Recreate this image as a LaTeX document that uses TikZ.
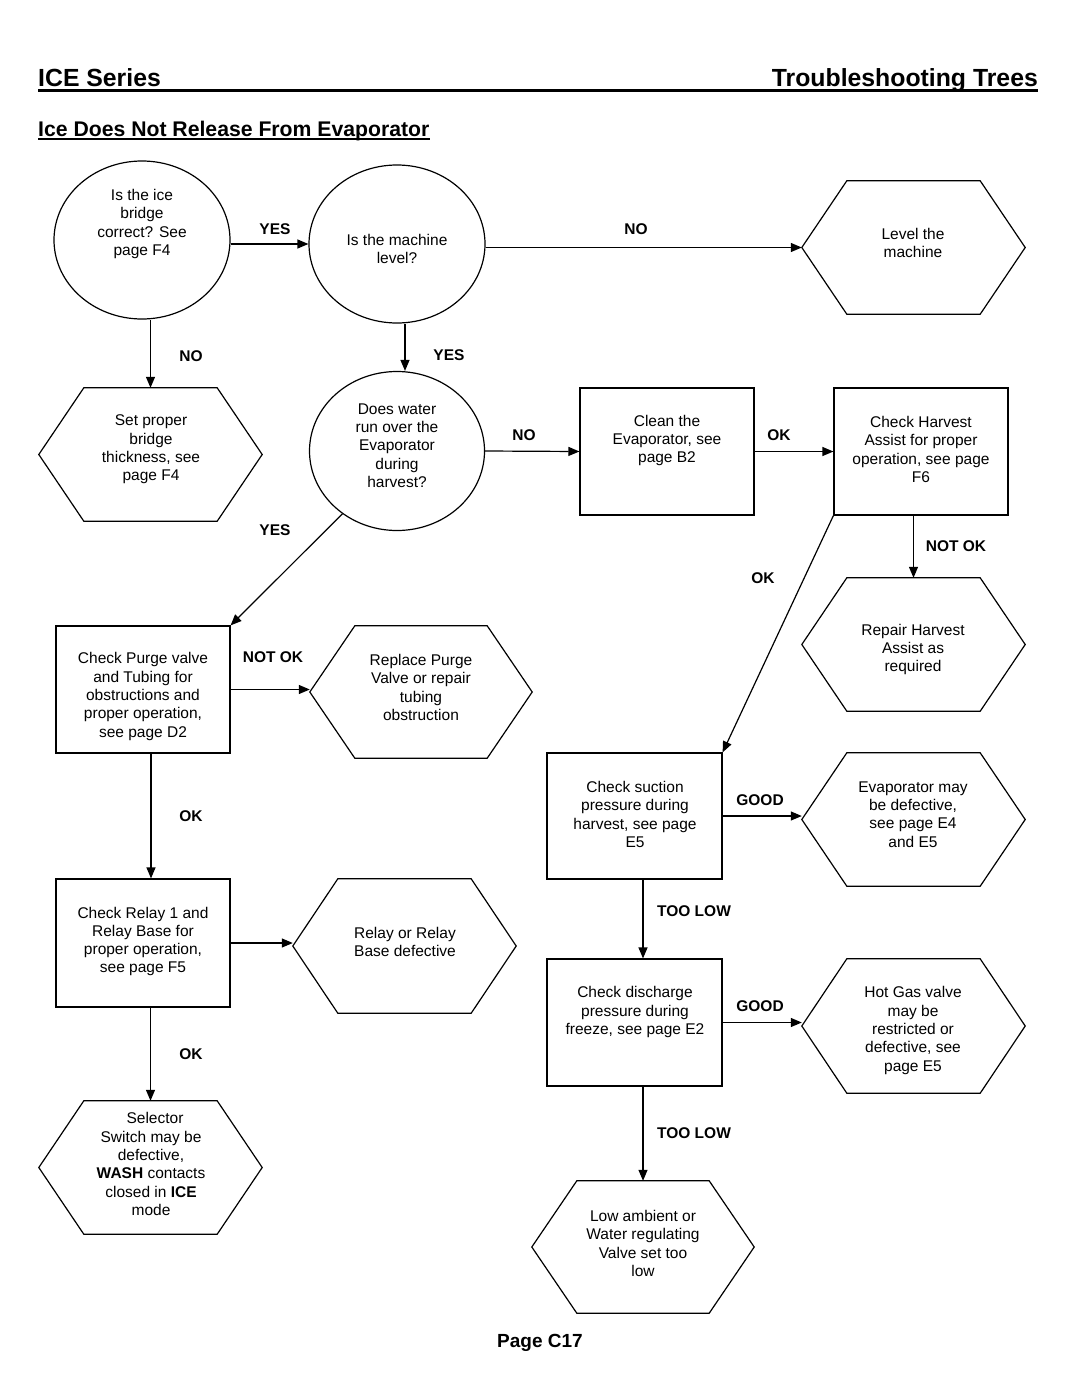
\documentclass[tikz,border=0pt]{standalone}
\usepackage{fontspec}
\setmainfont{Liberation Sans}
\usetikzlibrary{arrows.meta,calc,shapes.geometric}

\newcommand\hexoutline[1]{\draw[shapeline] (#1.west) -- ([xshift=45pt]#1.north west) -- ([xshift=-45pt]#1.north east) -- (#1.east) -- ([xshift=-45pt]#1.south east) -- ([xshift=45pt]#1.south west) -- cycle;}

\begin{document}
\begin{tikzpicture}[x=1pt,y=-1pt,
 shapeline/.style={line width=1.2pt, line join=miter},
 boxnode/.style={draw, shapeline, rectangle, minimum width=174pt, minimum height=127pt, inner sep=0pt},
 ovalnode/.style={draw, shapeline, ellipse, minimum width=176pt, minimum height=158pt, inner sep=0pt},
 hexnode/.style={rectangle, minimum width=223pt, minimum height=133pt, inner sep=0pt},
 txt/.style={align=center, inner sep=0pt, font=\fontsize{15.5}{18.3}\selectfont},
 lbl/.style={inner sep=0pt, font=\fontsize{15.5}{18.3}\selectfont\bfseries},
 arr/.style={line width=1.2pt, -{Triangle[length=11pt,width=9pt]}},
]
\fill[white] (0,0) rectangle (1080,1397);
\useasboundingbox (0,0) rectangle (1080,1397);

% titles
\node[anchor=base west, inner sep=0pt, font=\fontsize{24.8}{28}\selectfont\bfseries] (title) at (38,86) {ICE Series};
\node[anchor=base east, inner sep=0pt, font=\fontsize{24.8}{28}\selectfont\bfseries] (title2) at (1038,86) {Troubleshooting Trees};
\draw[line width=2.5pt] ([yshift=-4.5pt]title.base west) -- ([yshift=-4.5pt]title2.base east);
\node[anchor=base west, inner sep=0pt, font=\fontsize{21.2}{25}\selectfont\bfseries] (sub) at (38,136) {Ice Does Not Release From Evaporator};
\draw[line width=1.8pt] ([yshift=-3pt]sub.base west) -- ([yshift=-3pt]sub.base east);
\node[anchor=base, inner sep=0pt, font=\fontsize{19}{22}\selectfont\bfseries] (pg) at (540,1347) {Page C17};

% shapes
\node[ovalnode] (A) at (142,240) {};
\node[txt] (tA) at (142,224) {Is the ice\\bridge\\correct? See\\page F4};
\node[ovalnode] (B) at (397,244) {};
\node[txt] (tB) at (397,249) {Is the machine\\level?};
\node[hexnode] (Lv) at (913.5,247.5) {}; \hexoutline{Lv}
\node[txt] (tLv) at (913,243) {Level the\\machine};
\node[hexnode] (Set) at (150.5,454.5) {}; \hexoutline{Set}
\node[txt] (tSet) at (151,449.5) {Set proper\\bridge\\thickness, see\\page F4};
\node[ovalnode, minimum width=175pt, minimum height=159pt] (C) at (397,451) {};
\node[txt] (tC) at (397,445.5) {Does water\\run over the\\Evaporator\\during\\harvest?};
\node[boxnode] (Cl) at (667,451.5) {};
\node[txt] (tCl) at (667,440.5) {Clean the\\Evaporator, see\\page B2};
\node[boxnode] (CH) at (921,451.5) {};
\node[txt] (tCH) at (921,449.5) {Check Harvest\\Assist for proper\\operation, see page\\F6};
\node[hexnode] (Rep) at (913.5,644.5) {}; \hexoutline{Rep}
\node[txt] (tRep) at (913,649.5) {Repair Harvest\\Assist as\\required};
\node[boxnode] (PG) at (143,689.5) {};
\node[txt] (tPG) at (143,696.5) {Check Purge valve\\and Tubing for\\obstructions and\\proper operation,\\see page D2};
\node[hexnode, minimum width=222pt, minimum height=132pt] (RP) at (421,692) {}; \hexoutline{RP}
\node[txt] (tRP) at (421,687.5) {Replace Purge\\Valve or repair\\tubing\\obstruction};
\node[boxnode, minimum height=128pt] (CR) at (143,943) {};
\node[txt] (tCR) at (143,941.5) {Check Relay 1 and\\Relay Base for\\proper operation,\\see page F5};
\node[hexnode, minimum height=134pt] (RR) at (404.5,946) {}; \hexoutline{RR}
\node[txt] (tRR) at (405,942) {Relay or Relay\\Base defective};
\node[hexnode] (Sel) at (150.5,1167.5) {}; \hexoutline{Sel}
\node[txt] (tSel) at (151,1164) {\hspace*{8pt}Selector\\Switch may be\\defective,\\\textbf{WASH} contacts\\closed in \textbf{ICE}\\mode};
\node[boxnode, minimum width=175pt, minimum height=126pt] (CS) at (634.5,816) {};
\node[txt] (tCS) at (635,814.5) {Check suction\\pressure during\\harvest, see page\\E5};
\node[hexnode] (Ev) at (913.5,819.5) {}; \hexoutline{Ev}
\node[txt] (tEv) at (913,814.5) {Evaporator may\\be defective,\\see page E4\\and E5};
\node[boxnode, minimum width=175pt] (CD) at (634.5,1022.5) {};
\node[txt] (tCD) at (635,1012) {Check discharge\\pressure during\\freeze, see page E2};
\node[hexnode, minimum height=134pt] (HG) at (913.5,1026) {}; \hexoutline{HG}
\node[txt] (tHG) at (913,1030.5) {Hot Gas valve\\may be\\restricted or\\defective, see\\page E5};
\node[hexnode, minimum width=222pt, minimum height=132pt] (LA) at (643,1247) {}; \hexoutline{LA}
\node[txt] (tLA) at (643,1243.5) {Low ambient or\\Water regulating\\Valve set too\\low};

% connectors
\draw[arr] (B.west -| A.east) -- (B.west);
\draw[arr] (Lv.west -| B.east) -- (Lv.west);
\draw[arr] (A.south -| Set.north) -- (Set.north);
\draw[arr] ([xshift=8pt]B.south) -- ([xshift=8pt]C.north);
\draw[arr] (C.east) -- (Cl.west);
\draw[arr] (Cl.east) -- (CH.west);
\draw[arr] (Rep.north |- CH.south) -- (Rep.north);
\draw[arr] (CH.south west) -- (CS.north east);
\draw[arr] (C.229) -- (PG.north east);
\draw[arr] (PG.east) -- (PG.east -| RP.west);
\draw[arr] ([xshift=8pt]PG.south) -- ([xshift=8pt]CR.north);
\draw[arr] (CR.east) -- (CR.east -| RR.west);
\draw[arr] (Sel.north |- CR.south) -- (Sel.north);
\draw[arr] (CS.east) -- (CS.east -| Ev.west);
\draw[arr] (LA.north |- CS.south) -- (LA.north |- CD.north);
\draw[arr] (CD.east) -- (CD.east -| HG.west);
\draw[arr] (LA.north |- CD.south) -- (LA.north);

% labels
\node[lbl] (l1) at (275,229) {YES};
\node[lbl] (l2) at (636,229) {NO};
\node[lbl] (l3) at (191,356) {NO};
\node[lbl] (l4) at (449,355) {YES};
\node[lbl] (l5) at (524,435) {NO};
\node[lbl] (l6) at (779,435) {OK};
\node[lbl] (l7) at (275,530) {YES};
\node[lbl] (l8) at (956,546) {NOT OK};
\node[lbl] (l9) at (763,578) {OK};
\node[lbl] (l10) at (273,657) {NOT OK};
\node[lbl] (l11) at (191,816) {OK};
\node[lbl] (l12) at (760,800) {GOOD};
\node[lbl] (l13) at (694,911) {TOO LOW};
\node[lbl] (l14) at (760,1006) {GOOD};
\node[lbl] (l15) at (191,1054) {OK};
\node[lbl] (l16) at (694,1133) {TOO LOW};
\end{tikzpicture}
\end{document}
